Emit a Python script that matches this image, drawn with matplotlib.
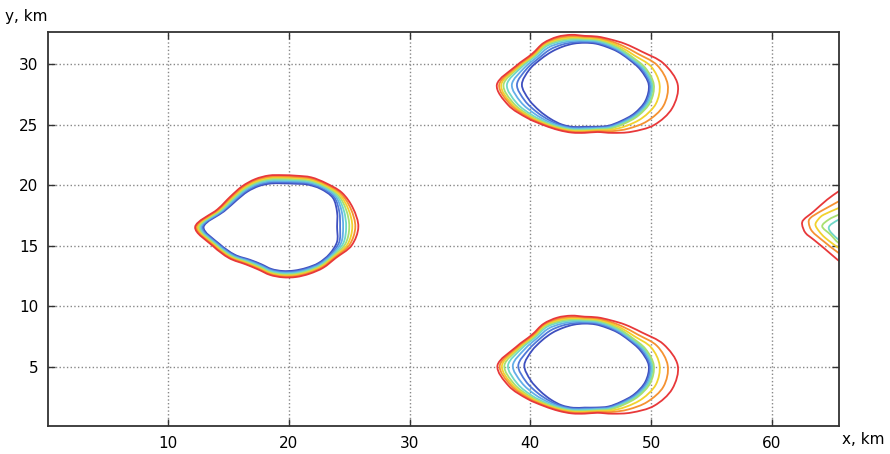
import numpy as np
import matplotlib
matplotlib.use('Agg')
import matplotlib.pyplot as plt
from matplotlib.path import Path
from matplotlib.patches import PathPatch


# ray directions (degrees) along which the contour radii are given
ANGLES = list(range(0, 360, 15))

# one colour per contour level, innermost (blue) to outermost (red)
LEVEL_COLORS = ['#3e4fbf', '#4f78d8', '#63aee8', '#6fd8c8',
                '#a8e070', '#f2d22e', '#f59232', '#e8383a']

# blob at x ~ 20 km: centre and radius (km) of each level along every ray
LEFT_CENTER = (19.5, 16.55)
LEFT_RAYS = [
    [4.50, 4.75, 5.00, 5.25, 5.51, 5.76, 6.01, 6.26],
    [4.66, 4.85, 5.05, 5.24, 5.44, 5.63, 5.83, 6.02],
    [4.80, 4.92, 5.05, 5.17, 5.29, 5.41, 5.54, 5.66],
    [4.45, 4.54, 4.64, 4.73, 4.82, 4.91, 5.01, 5.10],
    [4.05, 4.15, 4.24, 4.34, 4.44, 4.54, 4.63, 4.73],
    [3.70, 3.80, 3.89, 3.99, 4.09, 4.19, 4.28, 4.38],
    [3.60, 3.70, 3.79, 3.89, 3.99, 4.09, 4.18, 4.28],
    [3.72, 3.82, 3.91, 4.01, 4.11, 4.21, 4.30, 4.40],
    [3.91, 4.00, 4.10, 4.19, 4.28, 4.37, 4.47, 4.56],
    [4.13, 4.22, 4.31, 4.40, 4.48, 4.57, 4.66, 4.75],
    [4.41, 4.50, 4.58, 4.67, 4.75, 4.84, 4.92, 5.01],
    [5.02, 5.10, 5.19, 5.27, 5.35, 5.43, 5.52, 5.60],
    [6.55, 6.65, 6.75, 6.85, 6.95, 7.05, 7.15, 7.25],
    [5.42, 5.50, 5.59, 5.67, 5.75, 5.83, 5.92, 6.00],
    [4.58, 4.66, 4.74, 4.82, 4.89, 4.97, 5.05, 5.13],
    [3.83, 3.90, 3.98, 4.05, 4.13, 4.20, 4.28, 4.35],
    [3.55, 3.62, 3.69, 3.76, 3.84, 3.91, 3.98, 4.05],
    [3.59, 3.66, 3.73, 3.80, 3.88, 3.95, 4.02, 4.09],
    [3.63, 3.70, 3.78, 3.85, 3.93, 4.00, 4.08, 4.15],
    [3.72, 3.80, 3.88, 3.96, 4.03, 4.11, 4.19, 4.27],
    [3.90, 3.98, 4.06, 4.14, 4.21, 4.29, 4.37, 4.45],
    [4.20, 4.28, 4.36, 4.44, 4.51, 4.59, 4.67, 4.75],
    [4.47, 4.56, 4.65, 4.74, 4.82, 4.91, 5.00, 5.09],
    [4.66, 4.84, 5.01, 5.19, 5.37, 5.55, 5.72, 5.90],
]

# upper blob at x ~ 45 km
TOP_CENTER = (44.5, 28.3)
TOP_RAYS = [
    [5.30, 5.40, 5.50, 5.60, 5.72, 6.20, 6.87, 7.70],
    [4.77, 4.88, 4.99, 5.10, 5.22, 5.70, 6.20, 6.75],
    [4.20, 4.28, 4.36, 4.45, 4.55, 4.78, 5.08, 5.45],
    [3.85, 3.93, 4.01, 4.09, 4.18, 4.32, 4.50, 4.75],
    [3.60, 3.69, 3.78, 3.87, 3.96, 4.06, 4.17, 4.30],
    [3.50, 3.59, 3.67, 3.76, 3.84, 3.93, 4.01, 4.10],
    [3.45, 3.53, 3.61, 3.69, 3.78, 3.86, 3.94, 4.02],
    [3.50, 3.61, 3.72, 3.83, 3.94, 4.04, 4.14, 4.25],
    [3.62, 3.80, 3.96, 4.10, 4.22, 4.33, 4.44, 4.55],
    [3.85, 4.08, 4.30, 4.48, 4.60, 4.69, 4.77, 4.84],
    [4.20, 4.38, 4.55, 4.70, 4.80, 4.88, 4.96, 5.05],
    [4.75, 4.98, 5.21, 5.44, 5.59, 5.69, 5.79, 5.90],
    [5.20, 5.61, 6.03, 6.44, 6.72, 6.91, 7.08, 7.27],
    [4.78, 5.13, 5.49, 5.84, 6.07, 6.23, 6.37, 6.55],
    [4.32, 4.56, 4.80, 5.03, 5.18, 5.29, 5.39, 5.50],
    [4.00, 4.15, 4.30, 4.42, 4.52, 4.60, 4.68, 4.75],
    [3.80, 3.88, 3.96, 4.04, 4.11, 4.19, 4.26, 4.33],
    [3.62, 3.69, 3.76, 3.83, 3.89, 3.96, 4.03, 4.10],
    [3.48, 3.55, 3.62, 3.69, 3.77, 3.84, 3.91, 3.98],
    [3.60, 3.66, 3.72, 3.78, 3.85, 3.91, 3.98, 4.05],
    [3.92, 3.99, 4.06, 4.13, 4.20, 4.31, 4.44, 4.60],
    [4.25, 4.33, 4.41, 4.49, 4.58, 4.83, 5.13, 5.50],
    [4.75, 4.84, 4.93, 5.02, 5.12, 5.50, 6.00, 6.65],
    [5.20, 5.30, 5.40, 5.50, 5.62, 6.10, 6.75, 7.50],
]

# lower blob at x ~ 45 km
BOTTOM_CENTER = (44.5, 5.13)
BOTTOM_RAYS = [
    [5.30, 5.40, 5.50, 5.60, 5.72, 6.20, 6.87, 7.70],
    [4.77, 4.88, 4.99, 5.10, 5.22, 5.70, 6.20, 6.75],
    [4.20, 4.28, 4.36, 4.45, 4.55, 4.78, 5.08, 5.45],
    [3.85, 3.93, 4.01, 4.09, 4.18, 4.32, 4.50, 4.75],
    [3.60, 3.69, 3.78, 3.87, 3.96, 4.06, 4.17, 4.30],
    [3.50, 3.59, 3.67, 3.76, 3.84, 3.93, 4.01, 4.10],
    [3.45, 3.53, 3.61, 3.69, 3.78, 3.86, 3.94, 4.02],
    [3.48, 3.60, 3.72, 3.83, 3.94, 4.04, 4.14, 4.25],
    [3.58, 3.78, 3.95, 4.10, 4.22, 4.33, 4.44, 4.55],
    [3.80, 4.05, 4.28, 4.47, 4.60, 4.69, 4.77, 4.84],
    [4.10, 4.33, 4.53, 4.69, 4.80, 4.88, 4.96, 5.05],
    [4.55, 4.85, 5.15, 5.40, 5.56, 5.67, 5.78, 5.88],
    [5.00, 5.50, 5.95, 6.35, 6.65, 6.85, 7.03, 7.22],
    [4.65, 5.05, 5.42, 5.78, 6.02, 6.19, 6.34, 6.52],
    [4.25, 4.52, 4.78, 5.02, 5.17, 5.28, 5.39, 5.50],
    [3.98, 4.13, 4.28, 4.41, 4.52, 4.60, 4.68, 4.75],
    [3.80, 3.88, 3.96, 4.04, 4.11, 4.19, 4.26, 4.33],
    [3.62, 3.69, 3.76, 3.83, 3.89, 3.96, 4.03, 4.10],
    [3.48, 3.55, 3.62, 3.69, 3.77, 3.84, 3.91, 3.98],
    [3.60, 3.66, 3.72, 3.78, 3.85, 3.91, 3.98, 4.05],
    [3.92, 3.99, 4.06, 4.13, 4.20, 4.31, 4.44, 4.60],
    [4.25, 4.33, 4.41, 4.49, 4.58, 4.83, 5.13, 5.50],
    [4.75, 4.84, 4.93, 5.02, 5.12, 5.50, 6.00, 6.65],
    [5.20, 5.30, 5.40, 5.50, 5.62, 6.10, 6.75, 7.50],
]

# partly visible blob cut by the right border: levels 3..7 as open curves
EDGE_LEVELS = [3, 4, 5, 6, 7]
EDGE_X = [
    [66.5, 65.53, 64.70, 65.53, 66.5],
    [66.5, 65.53, 64.70, 64.16, 64.85, 65.53, 66.5],
    [66.5, 65.53, 64.29, 63.85, 63.60, 63.90, 64.43, 65.53, 66.5],
    [66.5, 65.53, 64.02, 63.19, 63.05, 63.33, 64.29, 65.53, 66.5],
    [66.5, 65.53, 64.57, 63.46, 62.63, 62.50, 62.78, 63.46, 64.29, 65.26, 65.62, 66.5],
]
EDGE_Y = [
    [17.5, 17.16, 16.47, 15.50, 15.1],
    [18.0, 17.57, 17.16, 16.60, 15.92, 15.23, 14.8],
    [18.6, 18.12, 17.57, 17.20, 16.74, 16.20, 15.64, 14.82, 14.3],
    [19.3, 18.67, 17.84, 17.30, 16.88, 16.19, 15.36, 14.40, 13.8],
    [20.2, 19.50, 18.81, 17.84, 17.16, 16.74, 16.06, 15.50, 14.82, 13.99, 13.71, 13.1],
]

X_TICKS = [10, 20, 30, 40, 50, 60]
Y_TICKS = [5, 10, 15, 20, 25, 30]


def smooth_path(xs, ys, closed=True):
    # cubic bezier through every point (catmull-rom tangents)
    p = np.column_stack([xs, ys]).astype(float)
    n = len(p)

    def at(i):
        if closed:
            return p[i % n]
        return p[min(max(i, 0), n - 1)]

    verts = [p[0]]
    codes = [Path.MOVETO]
    for i in range(n if closed else n - 1):
        a, b, c, d = at(i - 1), at(i), at(i + 1), at(i + 2)
        verts += [b + (c - a) / 6.0, c - (d - b) / 6.0, c]
        codes += [Path.CURVE4] * 3
    return Path(verts, codes)


def draw_blob(ax, center, rays):
    th = np.radians(ANGLES)
    radii = np.array(rays).T
    for k, r in enumerate(radii):
        xs = center[0] + r * np.cos(th)
        ys = center[1] + r * np.sin(th)
        ax.add_patch(PathPatch(smooth_path(xs, ys), fill=False,
                               edgecolor=LEVEL_COLORS[k], lw=1.3))


fig = plt.figure(figsize=(8.9, 4.54), dpi=100)
ax = fig.add_axes([48 / 890, 28 / 454, 791 / 890, 394 / 454])

draw_blob(ax, LEFT_CENTER, LEFT_RAYS)
draw_blob(ax, TOP_CENTER, TOP_RAYS)
draw_blob(ax, BOTTOM_CENTER, BOTTOM_RAYS)

for k, xs, ys in zip(EDGE_LEVELS, EDGE_X, EDGE_Y):
    ax.add_patch(PathPatch(smooth_path(xs, ys, closed=False), fill=False,
                           edgecolor=LEVEL_COLORS[k], lw=1.3))

ax.set_xlim(0.07, 65.55)
ax.set_ylim(0.13, 32.64)
ax.set_xticks(X_TICKS)
ax.set_yticks(Y_TICKS)
ax.tick_params(direction='in', top=True, right=True, length=5,
               width=1, labelsize=11, color='#333333')
ax.tick_params(axis='x', pad=7)
ax.tick_params(axis='y', pad=7)
ax.grid(True, ls=':', color='#888888', lw=1.0)
ax.set_axisbelow(True)
for s in ax.spines.values():
    s.set_color('#333333')
    s.set_linewidth(1.3)

fig.text(5 / 890, 1 - 17 / 454, 'y, km', fontsize=11, ha='left', va='center')
fig.text(863 / 890, 1 - 440 / 454, 'x, km', fontsize=11, ha='center', va='center')

fig.savefig('out.png', dpi=100)
